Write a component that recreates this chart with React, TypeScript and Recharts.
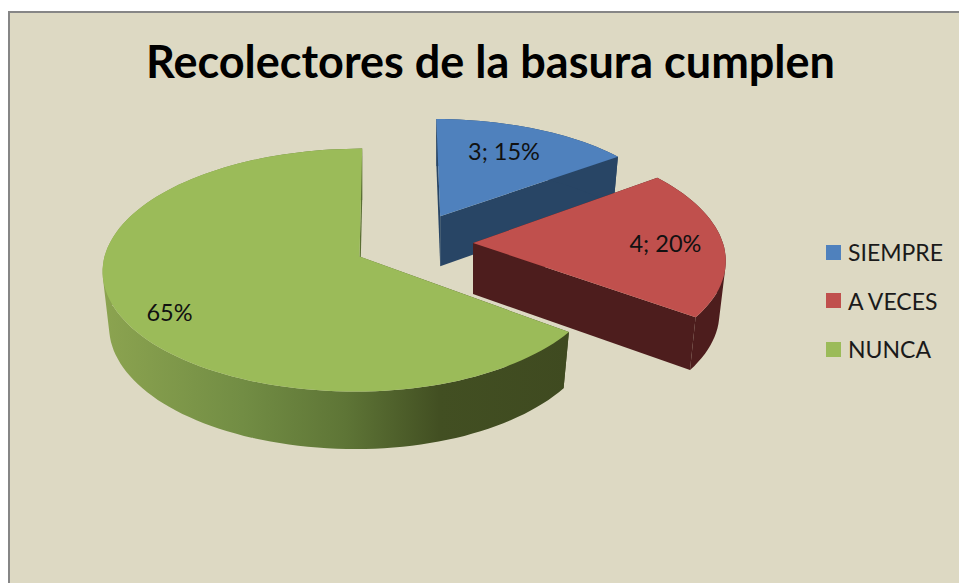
import { PieChart, Pie, Legend } from 'recharts'

const categories = ['SIEMPRE', 'A VECES', 'NUNCA']
const counts = [3, 4, 13]
const showCount = [true, true, false]
const topColors = ['#4f81bd', '#c0504d', '#9bbb59']
const wallColors = ['#284565', '#4d1d1d', 'url(#greenWall)']

const chartData = categories.map((name, i) => ({ name, value: counts[i], fill: topColors[i] }))

// fake 3D: each slice is tilted and pushed out along its mid angle
const TILT = 120 / 255
const PERSP = 1 / 9
const EXPLODE_X = 60
const EXPLODE_Y = 30
const sliceLook = [
  { right: 0.93, left: 0.93, squash: 0.9, shear: 4.4, depth: 50 },
  { right: 0.98, left: 0.98, squash: 0.985, shear: 10, depth: 51 },
  { right: 0.957, left: 1, squash: 1, shear: -3, depth: 54.5 },
]
const labelSpots = [
  { turn: -2, r: 0.71 },
  { turn: 0, r: 0.77 },
  { turn: -5, r: 0.83 },
]

const rad = (deg: number) => (deg * Math.PI) / 180

function project(p: any, i: number, clock: number, r: number) {
  const look = sliceLook[i]
  const mid = 90 - p.midAngle
  const ax = p.cx + EXPLODE_X * Math.sin(rad(mid))
  const ay = p.cy - EXPLODE_Y * Math.cos(rad(mid))
  const u = r * Math.sin(rad(clock))
  const v = -r * Math.cos(rad(clock))
  const d = 1 - PERSP * v
  const sx = u >= 0 ? look.right : look.left
  const x = ax + (p.outerRadius * sx * u + look.shear * v) / d
  const y = ay + (p.outerRadius * TILT * look.squash * v) / d
  return {
    x,
    y,
    bx: ax + (x - ax) * 0.975,
    by: y + look.depth + 3 * v,
  }
}

const toPath = (pts: number[][]) =>
  'M' + pts.map((q) => q[0].toFixed(1) + ',' + q[1].toFixed(1)).join('L') + 'Z'

// same winding for every quad, so one path fills their union without seams
function wound(pts: number[][]) {
  let area = 0
  pts.forEach((q, k) => {
    const n = pts[(k + 1) % pts.length]
    area += q[0] * n[1] - n[0] * q[1]
  })
  return area < 0 ? [...pts].reverse() : pts
}

function Slice3D(props: any) {
  const i = categories.indexOf(props.name ?? props.payload?.name)
  const from = 90 - props.startAngle
  const to = 90 - props.endAngle
  const rim: any[] = []
  const steps = Math.ceil((to - from) / 2)
  for (let s = 0; s <= steps; s++) {
    rim.push(project(props, i, from + ((to - from) * s) / steps, 1))
  }
  const apex = project(props, i, 0, 0)
  const first = rim[0]
  const last = rim[rim.length - 1]
  const top = [[apex.x, apex.y], ...rim.map((q) => [q.x, q.y])]
  const side = (q: any) => [[apex.x, apex.y], [q.x, q.y], [q.bx, q.by], [apex.bx, apex.by]]
  const wall = rim.slice(1).map((q, s) => {
    const prev = rim[s]
    return toPath(wound([[prev.x, prev.y], [q.x, q.y], [q.bx, q.by], [prev.bx, prev.by]]))
  }).join('')
  return (
    <g>
      <defs>
        <linearGradient id="greenWall" gradientUnits="userSpaceOnUse" x1="101" x2="571" y1="0" y2="0">
          <stop offset="0" stopColor="#8ca450" />
          <stop offset="0.3" stopColor="#728d44" />
          <stop offset="0.52" stopColor="#5e7536" />
          <stop offset="0.72" stopColor="#424f22" />
          <stop offset="1" stopColor="#3f4a20" />
        </linearGradient>
      </defs>
      <path d={toPath(side(first))} fill={wallColors[i]} />
      <path d={toPath(side(last))} fill={wallColors[i]} />
      <path d={wall} fill={wallColors[i]} />
      <path d={toPath(top)} fill={topColors[i]} />
    </g>
  )
}

function sliceLabel(props: any) {
  const i = props.index
  const spot = labelSpots[i]
  const pos = project(props, i, 90 - props.midAngle + spot.turn, spot.r)
  const pct = Math.round((counts[i] / counts.reduce((a, b) => a + b, 0)) * 100) + '%'
  return (
    <text x={pos.x} y={pos.y} textAnchor="middle" dominantBaseline="central"
      fontFamily="Lato" fontSize={23.5} fill="#111">
      {showCount[i] ? counts[i] + '; ' + pct : pct}
    </text>
  )
}

function LegendBox({ payload }: any) {
  return (
    <div>
      {(payload ?? []).map((entry: any) => (
        <div key={entry.value} style={{ display: 'flex', alignItems: 'center', height: 48.6 }}>
          <span style={{ width: 15, height: 15, background: entry.color, marginRight: 7 }} />
          <span style={{ fontFamily: 'Lato', fontSize: 23, color: '#1a1a1a' }}>{entry.value}</span>
        </div>
      ))}
    </div>
  )
}

export default function App() {
  return (
    <div style={{ position: 'absolute', left: 0, top: 0, width: 959, height: 583, background: '#fff', overflow: 'hidden' }}>
      <div style={{
        position: 'absolute', left: 8, top: 11, width: 951, height: 572, boxSizing: 'border-box',
        background: '#ddd9c3', borderLeft: '2px solid #868686', borderTop: '2px solid #868686',
      }} />
      <div style={{ position: 'absolute', left: 0, top: 0 }}>
        <PieChart width={959} height={583} margin={{ top: 0, right: 0, bottom: 0, left: 0 }}>
          <text x={490.5} y={78} textAnchor="middle" fontFamily="Lato" fontWeight={700} fontSize={45} fill="#000">
            Recolectores de la basura cumplen
          </text>
          <Pie data={chartData} dataKey="value" nameKey="name" cx={413} cy={243} innerRadius={0} outerRadius={255}
            startAngle={90} endAngle={-270} stroke="none" isAnimationActive={false}
            shape={Slice3D} activeShape={Slice3D} inactiveShape={Slice3D}
            label={sliceLabel} labelLine={false} />
          <Legend layout="vertical" align="right" verticalAlign="top" content={LegendBox} itemSorter={null}
            wrapperStyle={{ position: 'absolute', left: 826, top: 228, width: 133, right: 'auto' }} />
        </PieChart>
      </div>
    </div>
  )
}
